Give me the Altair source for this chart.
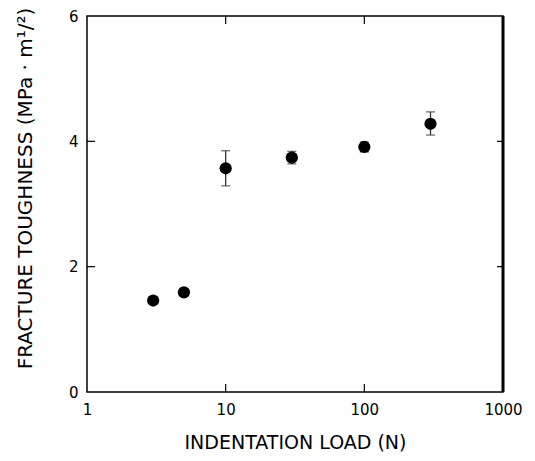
import altair as alt
import pandas as pd

# data
loads = [3, 5, 10, 30, 100, 300]
toughness = [1.46, 1.59, 3.57, 3.74, 3.91, 4.28]
err_low = [1.43, 1.56, 3.29, 3.64, 3.83, 4.10]
err_high = [1.49, 1.62, 3.85, 3.84, 3.99, 4.47]

x_tick_values = [1, 10, 100, 1000]
y_tick_values = [0, 2, 4, 6]
x_inner_ticks = [10, 100]
y_inner_ticks = [2, 4]

df = pd.DataFrame({"load": loads, "k": toughness, "lo": err_low, "hi": err_high})

W, H = 416, 376
FONT = "DejaVu Sans"

xscale = alt.Scale(type="log", domain=[1, 1000])
yscale = alt.Scale(domain=[0, 6])

xaxis = alt.Axis(values=x_tick_values, format="d", ticks=False, domain=False, grid=False,
                 labelFont=FONT, labelFontSize=15, labelColor="black", labelPadding=10,
                 labelFlush=False,
                 title="INDENTATION LOAD (N)", titleFont=FONT, titleFontSize=19,
                 titleFontWeight="normal", titleColor="black", titlePadding=16)
yaxis = alt.Axis(values=y_tick_values, format="d", ticks=False, domain=False, grid=False,
                 labelFont=FONT, labelFontSize=15, labelColor="black", labelPadding=9,
                 title="FRACTURE TOUGHNESS (MPa · m¹/²)", titleFont=FONT, titleFontSize=20,
                 titleFontWeight="normal", titleColor="black", titlePadding=33,
                 titleY=172)

base = alt.Chart(df)

rules = base.mark_rule(color="#333333", strokeWidth=1.3).encode(
    x=alt.X("load:Q", scale=xscale, axis=xaxis),
    y=alt.Y("lo:Q", scale=yscale, axis=yaxis),
    y2="hi:Q",
)
caps_hi = base.mark_tick(color="#333333", orient="horizontal", size=9, thickness=1.3).encode(
    x=alt.X("load:Q", scale=xscale), y=alt.Y("hi:Q", scale=yscale))
caps_lo = base.mark_tick(color="#333333", orient="horizontal", size=9, thickness=1.3).encode(
    x=alt.X("load:Q", scale=xscale), y=alt.Y("lo:Q", scale=yscale))
points = base.mark_circle(color="black", opacity=1, size=150).encode(
    x=alt.X("load:Q", scale=xscale), y=alt.Y("k:Q", scale=yscale))

xt = alt.Chart(pd.DataFrame({"v": x_inner_ticks}))
yt = alt.Chart(pd.DataFrame({"v": y_inner_ticks}))
tick_style = dict(color="black", strokeWidth=1.2)
xt_bottom = xt.mark_rule(**tick_style).encode(
    x=alt.X("v:Q", scale=xscale), y=alt.value(H), y2=alt.value(H - 8))
xt_top = xt.mark_rule(**tick_style).encode(
    x=alt.X("v:Q", scale=xscale), y=alt.value(0), y2=alt.value(8))
yt_left = yt.mark_rule(**tick_style).encode(
    y=alt.Y("v:Q", scale=yscale), x=alt.value(0), x2=alt.value(8))
yt_right = yt.mark_rule(**tick_style).encode(
    y=alt.Y("v:Q", scale=yscale), x=alt.value(W), x2=alt.value(W - 6))
right_edge = alt.Chart(pd.DataFrame({"v": [1000]})).mark_rule(color="black", strokeWidth=3).encode(
    x=alt.X("v:Q", scale=xscale), y=alt.value(0), y2=alt.value(H))

chart = alt.layer(
    rules, caps_hi, caps_lo, points, xt_bottom, xt_top, yt_left, yt_right, right_edge
).properties(
    width=W, height=H,
    autosize=alt.AutoSizeParams(type="none"),
    padding={"left": 79, "top": 8, "right": 24, "bottom": 68},
    background="white",
).configure_view(
    stroke="black", strokeWidth=1.5
)

chart.save("out.html", embed_options={"renderer": "svg", "actions": False})
